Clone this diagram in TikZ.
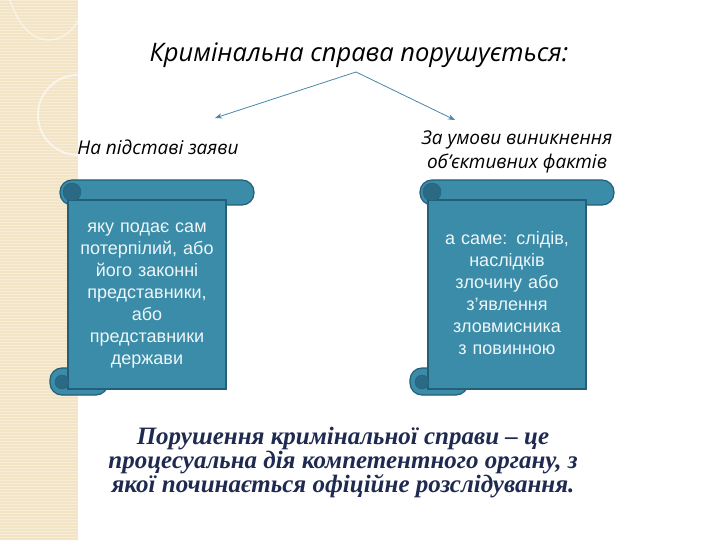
\documentclass[tikz,border=0pt]{standalone}
\usepackage{fontspec}
\setmainfont{Liberation Sans}
\newfontfamily\headf{Open Sans}
\newfontfamily\serf{Liberation Serif}
\usetikzlibrary{arrows.meta}
\definecolor{scroll}{HTML}{3A8CA8}
\definecolor{scrolld}{HTML}{2A6A85}
\definecolor{edge}{HTML}{245E78}
\definecolor{strip}{HTML}{F2E4C4}
\definecolor{ttl}{HTML}{1F2A50}
\definecolor{arr}{HTML}{4A86A8}
\tikzset{
 hd/.style={font=\headf\itshape\fontsize{19}{24}\selectfont, align=center},
 body/.style={font=\fontsize{18}{22}\selectfont, text=white!92!scroll, align=center, text width=150pt},
 sc/.style={fill=scroll, draw=edge, line width=1.2pt},
 ar/.style={draw=arr, line width=0.8pt, -{Stealth[length=7pt]}}
}
\newcommand\myscroll[1]{%
 \begin{scope}[shift={(#1,0)}]
 \filldraw[sc,rounded corners=12pt] (-18,368) rectangle (40,395);
 \filldraw[sc,rounded corners=12pt] (-8,180) rectangle (186,205);
 \filldraw[sc] (0,200) rectangle (158,389);
 \filldraw[fill=scrolld,draw=edge] (4,192) circle (9);
 \filldraw[fill=scrolld,draw=edge] (-6,382) circle (7);
 \end{scope}}
\begin{document}
\begin{tikzpicture}[x=1pt,y=-1pt]
\useasboundingbox (0,0) rectangle (720,540);
\fill[strip] (0,0) rectangle (78,540);
\foreach \y in {0,3,...,540} \draw[white,opacity=0.35,line width=0.4pt] (0,\y) -- (78,\y);
\draw[white,opacity=0.6,line width=2pt] (78,115) circle (40);
\draw[white,opacity=0.5,line width=1.5pt] (10,0) .. controls (30,60) and (70,40) .. (78,20);
\myscroll{68}
\myscroll{428}
\node[hd,font=\headf\itshape\fontsize{25.5}{30}\selectfont] (t) at (359,55) {Кримінальна справа порушується:};
\coordinate (o) at (356,72);
\node[hd] (l) at (158,147) {На підставі заяви};
\node[hd] (r) at (517,152) {За умови виникнення\\об’єктивних фактів};
\coordinate (la) at (215,118);
\coordinate (ra) at (455,120);
\draw[ar] (o) -- (la);
\draw[ar] (o) -- (ra);
\node[body,text width=140pt] (b1) at (147,296) {яку подає сам потерпілий, або його законні представники, або представники держави};
\node[body,text width=138pt] (b2) at (507,293) {а саме: слідів, наслідків злочину або з’явлення зловмисника з повинною};
\node[font=\serf\bfseries\itshape\fontsize{25}{24}\selectfont,text=ttl,align=center] (c) at (343,463) {Порушення кримінальної справи – це\\процесуальна дія компетентного органу, з\\якої починається офіційне розслідування.};
\end{tikzpicture}
\end{document}
